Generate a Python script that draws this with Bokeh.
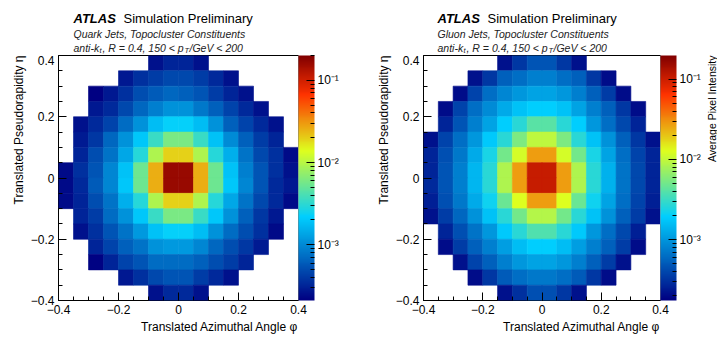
import math
import numpy as np
from bokeh.plotting import figure
from bokeh.models import (ColumnDataSource, LogColorMapper, ColorBar, FixedTicker,
                          CustomJSTickFormatter, Label, Title, Range1d)
from bokeh.layouts import row, column
from bokeh.embed import file_html
from bokeh.resources import INLINE

N = None
# bin edges in phi and eta (16 x 16 pixels)
bin_edges = [-0.4, -0.35, -0.3, -0.25, -0.2, -0.15, -0.1, -0.05, 0.0,
             0.05, 0.1, 0.15, 0.2, 0.25, 0.3, 0.35, 0.4]

# Average pixel intensity in units of 1e-4, rows from top (eta=+0.375) to bottom, columns phi -0.375 .. 0.375
quark_e4 = [
    [N, N, N, N, N, N, 2.6, 3.2, 3.2, 2.6, N, N, N, N, N, N],
    [N, N, N, N, 2.75, 3.6, 4.2, 4.8, 4.8, 4.2, 3.4, 2.6, N, N, N, N],
    [N, N, 2.1, 2.75, 3.6, 5.1, 5.9, 6.7, 6.3, 5.5, 4.2, 3.2, 2.6, N, N, N],
    [N, N, 2.75, 3.4, 4.8, 6.7, 8.8, 11, 11, 8.2, 6.3, 4.5, 3.4, 2.6, N, N],
    [N, 2.6, 3.4, 4.5, 7.2, 11, 18, 23, 23, 18, 11, 6.3, 4.5, 3.4, 2.6, N],
    [N, 2.9, 3.9, 6.7, 11, 20, 35, 60, 60, 35, 19, 10, 6.3, 4.2, 3.2, N],
    [N, 3.2, 5.1, 7.7, 14, 30, 91, 194, 194, 91, 30, 15, 7.7, 4.8, 3.6, 2.4],
    [2.4, 3.6, 5.5, 9.5, 19, 53, 255, 1630, 1630, 255, 53, 19, 8.8, 5.5, 3.6, 2.6],
    [2.4, 3.4, 5.9, 9.5, 20, 53, 255, 1630, 1630, 255, 53, 20, 9.5, 5.5, 3.4, 2.75],
    [2.4, 3.2, 5.1, 7.7, 15, 30, 91, 194, 194, 91, 30, 14, 7.7, 4.8, 3.4, 2.4],
    [N, 3.2, 4.2, 7.2, 11, 20, 35, 60, 60, 35, 20, 11, 6.3, 3.9, 2.75, N],
    [N, 2.6, 3.6, 5.5, 7.7, 12, 19, 23, 23, 18, 11, 7.2, 5.1, 3.6, 2.4, N],
    [N, N, 3.2, 4.5, 6.3, 7.7, 11, 12, 12, 9.5, 6.7, 5.1, 3.9, 2.9, N, N],
    [N, N, 2.2, 3.2, 4.5, 5.5, 7.2, 7.2, 7.2, 6.3, 5.1, 4.2, 3.2, N, N, N],
    [N, N, N, N, 2.75, 3.6, 4.8, 5.5, 5.5, 4.2, 3.4, 2.6, N, N, N, N],
    [N, N, N, N, N, N, 2.6, 3.4, 3.4, 2.6, N, N, N, N, N, N],
]

gluon_e4 = [
    [N, N, N, N, N, 2.15, 3.3, 4.65, 4.65, 3.3, 2.15, N, N, N, N, N],
    [N, N, N, 2.15, 3.3, 5.35, 6.2, 7.6, 7.6, 6.2, 5.35, 3.3, 2.0, N, N, N],
    [N, N, 2.0, 3.8, 6.2, 8.2, 10.1, 11.6, 11.6, 10.1, 7.6, 5.35, 3.5, 2.0, N, N],
    [N, 2.0, 3.8, 6.2, 8.8, 12.5, 16.5, 19, 19, 16.5, 11.6, 7.6, 5.35, 3.3, 2.0, N],
    [N, 2.65, 4.65, 7.6, 11.6, 19, 27, 41, 41, 27, 19, 10.1, 6.2, 4.0, 2.65, N],
    [2.15, 3.8, 6.2, 10.1, 17.7, 27, 55, 96, 96, 55, 27, 16.5, 9.4, 5.35, 3.3, 2.15],
    [2.65, 4.35, 7.1, 12.5, 23.5, 51, 118, 275, 275, 118, 51, 23.5, 11.6, 6.2, 3.8, 2.65],
    [2.65, 4.65, 7.6, 14.3, 27, 83, 275, 1047, 1047, 275, 83, 27, 13.4, 6.6, 4.0, 2.65],
    [2.85, 4.65, 7.6, 14.3, 27, 83, 275, 1047, 1047, 275, 83, 27, 13.4, 6.6, 4.0, 2.65],
    [2.5, 4.35, 7.1, 12.5, 21.9, 47, 127, 275, 275, 127, 47, 21.9, 11.6, 6.2, 3.8, 2.5],
    [2.15, 3.5, 5.75, 9.4, 16.5, 27, 51, 89, 89, 51, 27, 16.5, 9.4, 5.35, 3.5, 2.15],
    [N, 2.65, 4.35, 6.6, 10.1, 17.7, 27, 38, 38, 27, 17.7, 10.1, 6.2, 4.0, 2.5, N],
    [N, 2.0, 3.5, 5.35, 7.6, 10.8, 15.4, 19, 19, 15.4, 10.8, 7.6, 5.35, 3.5, 2.0, N],
    [N, N, 2.15, 3.8, 5.35, 7.6, 10.1, 11.6, 11.6, 10.1, 7.6, 5.35, 3.5, 2.15, N, N],
    [N, N, N, 2.0, 3.3, 5.0, 6.2, 7.1, 7.1, 6.2, 5.0, 3.3, 2.0, N, N, N],
    [N, N, N, N, N, 2.15, 3.05, 4.35, 4.35, 3.3, 2.15, N, N, N, N, N],
]

quark_z_range = (2.1e-4, 0.2)
gluon_z_range = (1.74e-4, 0.197)

axis_ticks = [-0.4, -0.2, 0.0, 0.2, 0.4]
cbar_ticks = [1e-3, 1e-2, 1e-1]
cbar_minor = [m * 10.0 ** e for e in (-4, -3, -2) for m in range(2, 10)] + [2e-1]

quark_label = "Quark Jets, Topocluster Constituents"
gluon_label = "Gluon Jets, Topocluster Constituents"
x_title = "Translated Azimuthal Angle \u03c6"
y_title = "Translated Pseudorapidity \u03b7"
z_title = "Average Pixel Intensity"

FONT = "Liberation Sans"

# ROOT kRainBow palette
stops = [0.00, 0.34, 0.61, 0.84, 1.00]
reds = [0.00, 0.00, 0.87, 1.00, 0.51]
greens = [0.00, 0.81, 1.00, 0.20, 0.00]
blues = [0.51, 1.00, 0.12, 0.00, 0.00]
palette = []
for t in np.linspace(0, 1, 255):
    r = int(round(255 * np.interp(t, stops, reds)))
    g = int(round(255 * np.interp(t, stops, greens)))
    b = int(round(255 * np.interp(t, stops, blues)))
    palette.append("#%02x%02x%02x" % (r, g, b))

axis_fmt_code = """
if (Math.abs(tick) < 1e-9) { return "0"; }
return (tick < 0 ? "\u2212" : "") + Math.abs(tick).toFixed(1);
"""
cbar_fmt_code = """
const e = Math.round(Math.log10(tick));
const sup = {"-": "\u207b", "0": "\u2070", "1": "\u00b9", "2": "\u00b2", "3": "\u00b3",
             "4": "\u2074", "5": "\u2075", "6": "\u2076", "7": "\u2077", "8": "\u2078", "9": "\u2079"};
return "10" + String(e).split("").map(c => sup[c]).join("");
"""

HEADER_H = 55
FRAME_H = 245
BOTTOM_B = 38
TOTAL_H = HEADER_H + FRAME_H + BOTTOM_B


def make_source(values):
    left, right, top, bottom, v = [], [], [], [], []
    nrow = len(values)
    for i, rowv in enumerate(values):
        for j, val in enumerate(rowv):
            if val is None:
                continue
            left.append(bin_edges[j])
            right.append(bin_edges[j + 1])
            top.append(bin_edges[nrow - i])
            bottom.append(bin_edges[nrow - i - 1])
            v.append(val * 1e-4)
    return ColumnDataSource(dict(left=left, right=right, top=top, bottom=bottom, v=v))


def blank(width, height, bl, br, xr, yr):
    h = figure(width=width, height=height, x_range=xr, y_range=yr,
               output_backend="svg", toolbar_location=None,
               min_border_left=bl, min_border_right=br, min_border_top=0, min_border_bottom=0,
               x_axis_location=None, y_axis_location=None)
    h.xgrid.visible = False
    h.ygrid.visible = False
    h.outline_line_color = None
    h.background_fill_color = "white"
    h.border_fill_color = "white"
    return h


def header(bl, frame_w, br, x0, sub_label):
    # header coordinates: pixels from the left of this figure, y downward
    h = blank(bl + frame_w + br, HEADER_H, bl, br, Range1d(bl, bl + frame_w), Range1d(HEADER_H, 0))

    def txt(text, x, y, size, style="normal", color="black"):
        h.add_layout(Label(x=x, y=y, text=text, text_font=FONT, text_font_size=size,
                           text_font_style=style, text_align="left", text_baseline="alphabetic",
                           text_color=color))

    txt("ATLAS", x0, 18, "13px", "bold italic")
    txt("Simulation Preliminary", x0 + 50, 18, "13px")
    txt(sub_label, x0, 33.5, "10.5px", "italic", "#222222")
    txt("anti-k", x0, 47, "10.5px", "italic", "#222222")
    txt("t", x0 + 26, 49.5, "7.5px", "italic", "#222222")
    txt(", R = 0.4, 150 < p", x0 + 29, 47, "10.5px", "italic", "#222222")
    txt("T", x0 + 111, 49.5, "7.5px", "italic", "#222222")
    txt("/GeV < 200", x0 + 116, 47, "10.5px", "italic", "#222222")
    return h


def panel(values, zrange, bl, frame_w, br):
    p = figure(frame_width=frame_w, frame_height=FRAME_H, x_range=(-0.4, 0.4), y_range=(-0.4, 0.4),
               output_backend="svg", toolbar_location=None,
               min_border_left=bl, min_border_right=br,
               min_border_top=0, min_border_bottom=BOTTOM_B)
    p.xgrid.visible = False
    p.ygrid.visible = False
    p.outline_line_color = "black"
    p.outline_line_width = 1
    p.background_fill_color = "white"
    p.border_fill_color = "white"

    mapper = LogColorMapper(palette=palette, low=zrange[0], high=zrange[1])
    src = make_source(values)
    p.quad(left="left", right="right", top="top", bottom="bottom", source=src,
           fill_color={"field": "v", "transform": mapper},
           line_color={"field": "v", "transform": mapper}, line_width=0.6)

    for ax in (p.xaxis[0], p.yaxis[0]):
        ax.ticker = FixedTicker(ticks=axis_ticks, minor_ticks=bin_edges)
        ax.formatter = CustomJSTickFormatter(code=axis_fmt_code)
        ax.axis_line_color = None
        ax.major_tick_in = 8
        ax.major_tick_out = 0
        ax.minor_tick_in = 4
        ax.minor_tick_out = 0
        ax.major_tick_line_color = "black"
        ax.minor_tick_line_color = "black"
        ax.major_label_text_font = FONT
        ax.major_label_text_font_size = "12px"
        ax.major_label_text_color = "black"
        ax.major_label_standoff = 4

    cb = ColorBar(color_mapper=mapper, width=16, margin=0, padding=0,
                  ticker=FixedTicker(ticks=cbar_ticks, minor_ticks=cbar_minor),
                  formatter=CustomJSTickFormatter(code=cbar_fmt_code),
                  major_tick_in=8, major_tick_out=0, minor_tick_in=4, minor_tick_out=0,
                  major_tick_line_color="black", minor_tick_line_color="black",
                  major_label_text_font=FONT, major_label_text_font_size="12px",
                  major_label_text_color="black", label_standoff=3,
                  bar_line_color=None, border_line_color=None)
    p.add_layout(cb, "right")

    p.add_layout(Title(text=x_title, align="right", text_font=FONT, text_font_size="12px",
                       text_font_style="normal", text_color="black", standoff=2), "below")
    p.add_layout(Title(text=y_title, align="right", text_font=FONT, text_font_size="12px",
                       text_font_style="normal", text_color="black", standoff=4), "left")
    return p


# colour-bar title strip at the right edge (reads bottom to top, top-aligned)
STRIP_W = 16
ztitle = blank(STRIP_W, TOTAL_H, 0, 0, Range1d(0, STRIP_W), Range1d(TOTAL_H, 0))
ztitle.add_layout(Label(x=8.5, y=HEADER_H, text=z_title, angle=math.pi / 2, text_align="right",
                        text_baseline="alphabetic", text_font=FONT, text_font_size="10.5px",
                        text_color="black"))

left_col = column(header(58, 240, 58, 73, quark_label), panel(quark_e4, quark_z_range, 58, 240, 58))
right_col = column(header(67, 237, 43, 81, gluon_label), panel(gluon_e4, gluon_z_range, 67, 237, 43))
layout = row(left_col, right_col, ztitle)

open("out.html", "w").write(file_html(layout, INLINE))
